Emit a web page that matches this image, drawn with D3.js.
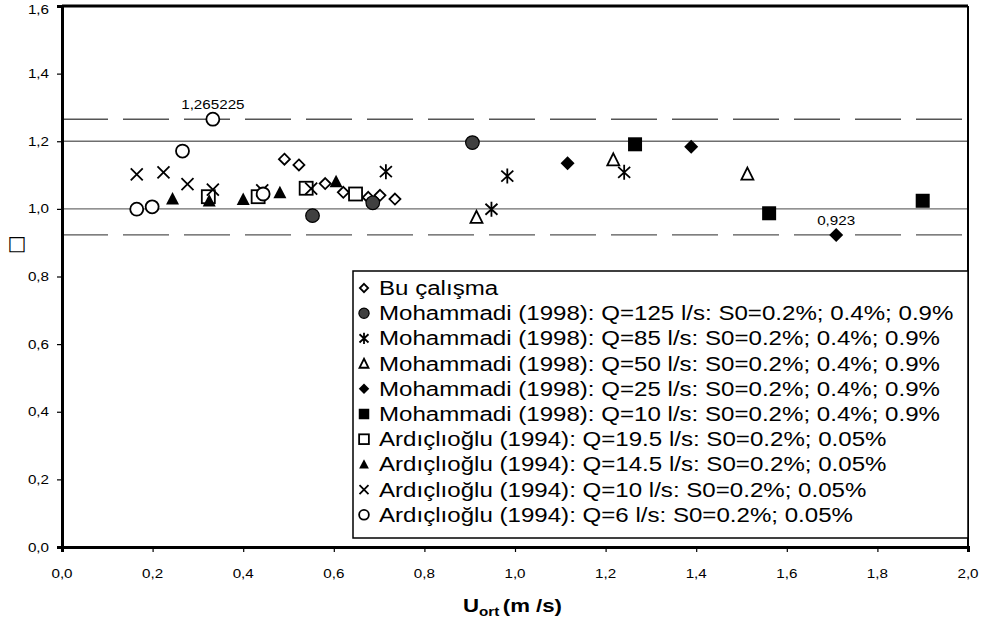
<!DOCTYPE html>
<html><head><meta charset="utf-8">
<script src="https://cdn.jsdelivr.net/npm/d3@7"></script>
<style>body{margin:0;background:#fff}svg{display:block}</style>
</head><body><svg id="c" width="982" height="625"></svg>
<script>
// ---- data ----
const xTicks = [0,0.2,0.4,0.6,0.8,1.0,1.2,1.4,1.6,1.8,2.0];
const yTicks = [0,0.2,0.4,0.6,0.8,1.0,1.2,1.4,1.6];
const solidRefs = [1.0, 1.2];
const dashedRefs = [1.265225, 0.923];
const buCalisma   = [[0.491,1.147],[0.523,1.130],[0.581,1.075],[0.621,1.049],[0.676,1.034],[0.702,1.040],[0.735,1.029]];
const moh125 = [[0.553,0.980],[0.686,1.018],[0.906,1.196]];
const moh85  = [[0.715,1.110],[0.948,0.999],[0.983,1.097],[1.241,1.108]];
const moh50  = [[0.915,0.975],[1.217,1.145],[1.513,1.103]];
const moh25  = [[1.116,1.135],[1.389,1.184],[1.709,0.923]];
const moh10  = [[1.265,1.191],[1.561,0.987],[1.900,1.024]];
const ard195 = [[0.323,1.036],[0.433,1.036],[0.539,1.061],[0.648,1.044]];
const ard145 = [[0.244,1.029],[0.325,1.023],[0.400,1.028],[0.481,1.048],[0.605,1.080]];
const ard10  = [[0.165,1.102],[0.224,1.108],[0.277,1.073],[0.333,1.057],[0.442,1.055],[0.550,1.060]];
const ard6   = [[0.165,0.999],[0.199,1.006],[0.266,1.171],[0.333,1.265225],[0.444,1.044]];
const seriesNames = [
 "Bu çalışma",
 "Mohammadi (1998): Q=125 l/s: S0=0.2%; 0.4%; 0.9%",
 "Mohammadi (1998): Q=85 l/s: S0=0.2%; 0.4%; 0.9%",
 "Mohammadi (1998): Q=50 l/s: S0=0.2%; 0.4%; 0.9%",
 "Mohammadi (1998): Q=25 l/s: S0=0.2%; 0.4%; 0.9%",
 "Mohammadi (1998): Q=10 l/s: S0=0.2%; 0.4%; 0.9%",
 "Ardıçlıoğlu (1994): Q=19.5 l/s: S0=0.2%; 0.05%",
 "Ardıçlıoğlu (1994): Q=14.5 l/s: S0=0.2%; 0.05%",
 "Ardıçlıoğlu (1994): Q=10 l/s: S0=0.2%; 0.05%",
 "Ardıçlıoğlu (1994): Q=6 l/s: S0=0.2%; 0.05%"
];
const seriesMarkers = ["diamondOpen","circleGray","asterisk","triangleOpen","diamondFilled","squareFilled","squareOpen","triangleFilled","x","circleOpen"];
const seriesData = [buCalisma,moh125,moh85,moh50,moh25,moh10,ard195,ard145,ard10,ard6];
const pointLabels = [{x:0.333,y:1.265225,text:"1,265225"},{x:1.709,y:0.923,text:"0,923"}];

// ---- layout ----
const svg = d3.select("#c");
const L=62, R=968, T=6, B=547;
const SX=1.17;
const FONT="'Liberation Sans', Arial, sans-serif";
const x = d3.scaleLinear().domain([0,2]).range([L,R]);
const y = d3.scaleLinear().domain([0,1.6]).range([B,T]);
const fmt = v => d3.format(".1f")(v).replace(".",",");

function stext(g, px, py, str, size, anchor, weight){
  const t = g.append("g").attr("transform",`translate(${px},${py}) scale(${SX},1)`)
    .append("text").attr("font-family",FONT).attr("font-size",size)
    .attr("text-anchor",anchor||"start").attr("fill","#000").text(str);
  if(weight) t.attr("font-weight",weight);
  return t;
}

// reference lines
svg.selectAll("line.solid").data(solidRefs).enter().append("line")
  .attr("x1",L).attr("x2",R).attr("y1",d=>y(d)).attr("y2",d=>y(d))
  .attr("stroke","#6e6e6e").attr("stroke-width",1.4);
svg.selectAll("line.dash").data(dashedRefs).enter().append("line")
  .attr("x1",L).attr("x2",R).attr("y1",d=>y(d)).attr("y2",d=>y(d))
  .attr("stroke","#555").attr("stroke-width",1.4).attr("stroke-dasharray","46,15");

// frame: top & right
svg.append("line").attr("x1",L).attr("x2",R).attr("y1",T).attr("y2",T).attr("stroke","#000").attr("stroke-width",3);
svg.append("line").attr("x1",R).attr("x2",R).attr("y1",T).attr("y2",B).attr("stroke","#000").attr("stroke-width",2);

// axes
const xAxis = svg.append("g").attr("transform",`translate(0,${B})`)
  .call(d3.axisBottom(x).tickValues(xTicks).tickSize(5).tickFormat(""));
const yAxis = svg.append("g").attr("transform",`translate(${L},0)`)
  .call(d3.axisLeft(y).tickValues(yTicks).tickSize(5).tickFormat(""));
[xAxis,yAxis].forEach(a=>{
  a.select(".domain").attr("stroke","#000").attr("stroke-width",3);
  a.selectAll(".tick line").attr("stroke","#000").attr("stroke-width",1.2);
});
xTicks.forEach(v=>stext(svg, x(v), 578, fmt(v), 13, "middle"));
yTicks.forEach(v=>stext(svg, 49, Math.max(y(v)+4.5, 14), fmt(v), 13, "end"));

// markers
function marker(g, type, cx, cy, k){
  k = k||1;
  const s = v=>v*k;
  switch(type){
    case "diamondOpen":
      g.append("path").attr("d",`M${cx},${cy-s(5.5)}L${cx+s(5.5)},${cy}L${cx},${cy+s(5.5)}L${cx-s(5.5)},${cy}Z`)
        .attr("fill","#fff").attr("stroke","#000").attr("stroke-width",1.8); break;
    case "diamondFilled":
      g.append("path").attr("d",`M${cx},${cy-s(7)}L${cx+s(7)},${cy}L${cx},${cy+s(7)}L${cx-s(7)},${cy}Z`)
        .attr("fill","#000"); break;
    case "circleGray":
      g.append("circle").attr("cx",cx).attr("cy",cy).attr("r",s(6.8)).attr("fill","#404040").attr("stroke","#000").attr("stroke-width",1.2); break;
    case "circleOpen":
      g.append("circle").attr("cx",cx).attr("cy",cy).attr("r",s(6.5)).attr("fill","#fff").attr("stroke","#000").attr("stroke-width",1.8); break;
    case "squareFilled":
      g.append("rect").attr("x",cx-s(7)).attr("y",cy-s(7)).attr("width",s(14)).attr("height",s(14)).attr("fill","#000"); break;
    case "squareOpen":
      g.append("rect").attr("x",cx-s(6.5)).attr("y",cy-s(6.5)).attr("width",s(13)).attr("height",s(13))
        .attr("fill","#fff").attr("stroke","#000").attr("stroke-width",1.8); break;
    case "triangleFilled":
      g.append("path").attr("d",`M${cx},${cy-s(7)}L${cx+s(6.5)},${cy+s(5.5)}L${cx-s(6.5)},${cy+s(5.5)}Z`).attr("fill","#000"); break;
    case "triangleOpen":
      g.append("path").attr("d",`M${cx},${cy-s(6.5)}L${cx+s(6)},${cy+s(5.5)}L${cx-s(6)},${cy+s(5.5)}Z`)
        .attr("fill","#fff").attr("stroke","#000").attr("stroke-width",1.8); break;
    case "x":
      g.append("path").attr("d",`M${cx-s(6)},${cy-s(6)}L${cx+s(6)},${cy+s(6)}M${cx-s(6)},${cy+s(6)}L${cx+s(6)},${cy-s(6)}`)
        .attr("stroke","#000").attr("stroke-width",1.8).attr("fill","none"); break;
    case "asterisk":
      g.append("path").attr("d",`M${cx-s(6)},${cy-s(5.5)}L${cx+s(6)},${cy+s(5.5)}M${cx-s(6)},${cy+s(5.5)}L${cx+s(6)},${cy-s(5.5)}M${cx},${cy-s(7.5)}L${cx},${cy+s(7.5)}`)
        .attr("stroke","#000").attr("stroke-width",1.8).attr("fill","none"); break;
  }
}
const pts = svg.append("g");
seriesData.forEach((arr,i)=>{
  const g = pts.append("g").attr("class","series");
  arr.forEach(d=>marker(g, seriesMarkers[i], x(d[0]), y(d[1])));
});

// point labels
pointLabels.forEach(p=>stext(svg, x(p.x), y(p.y)-10, p.text, 13, "middle"));

// legend
const lg = svg.append("g");
lg.append("rect").attr("x",353).attr("y",271).attr("width",R-353).attr("height",267)
  .attr("fill","#fff").attr("stroke","#000").attr("stroke-width",1.5);
seriesNames.forEach((n,i)=>{
  const cy = 288 + i*25.2;
  marker(lg, seriesMarkers[i], 364, cy, 0.75);
  stext(lg, 379, cy+7, n, 20.6, "start");
});

// axis title
const tt = svg.append("g").attr("transform",`translate(463,612) scale(${SX},1)`)
  .append("text").attr("font-family",FONT).attr("font-weight","bold").attr("font-size",19);
tt.append("tspan").text("U");
tt.append("tspan").attr("font-size",13).attr("dy",4).text("ort");
tt.append("tspan").attr("dy",-4).attr("dx",3).text("(m /s)");

// y-axis title (missing glyph box as in the reference)
svg.append("text").attr("x",17).attr("y",250).attr("font-family","'DejaVu Sans', sans-serif")
  .attr("font-size",20).attr("text-anchor","middle").text("□");
</script></body></html>
